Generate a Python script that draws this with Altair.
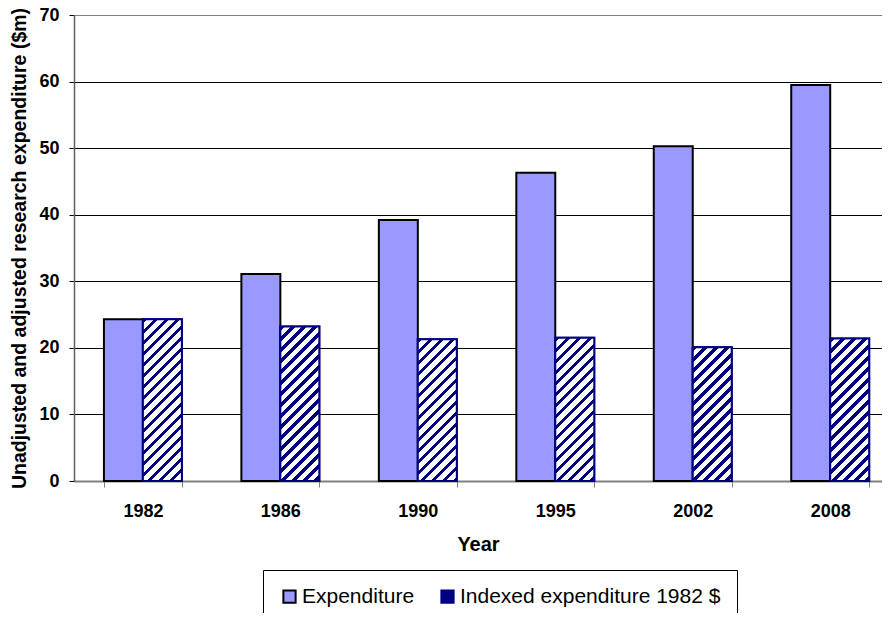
import altair as alt
import pandas as pd

# ---- data ----
years = ["1982", "1986", "1990", "1995", "2002", "2008"]
expenditure = [24.3, 31.1, 39.2, 46.3, 50.3, 59.5]
indexed = [24.3, 23.2, 21.3, 21.5, 20.1, 21.4]
series = ["Expenditure", "Indexed expenditure 1982 $"]
y_ticks = [0, 10, 20, 30, 40, 50, 60, 70]

rows = []
for yr, e, i in zip(years, expenditure, indexed):
    rows.append({"Year": yr, "series": series[0], "value": e})
    rows.append({"Year": yr, "series": series[1], "value": i})
df = pd.DataFrame(rows)

# ---- layout constants ----
FONT = "Liberation Sans"
PLOT_W = 808
PLOT_H = 466
PAD_IN = 0.433
PAD_OUT = 0.1555
ALIGN = 0.70
Y_MAX = 70
NAVY = "#000080"
LAV = "#9999FF"

step = PLOT_W / (len(years) - PAD_IN + 2 * PAD_OUT)
bar_w = step * (1 - PAD_IN) / 2


def hatch(h, w, period=11.0, frac=0.42):
    L = w + h
    s = L / (w * w + h * h)
    dt = period / L
    stops = []
    t = 0.0
    while t < 1.0:
        a = round(t, 5)
        b = round(min(t + frac * dt, 1.0), 5)
        c = round(min(t + dt, 1.0), 5)
        stops += [
            alt.GradientStop(offset=a, color=NAVY),
            alt.GradientStop(offset=b, color=NAVY),
            alt.GradientStop(offset=b, color="#FFFFFF"),
            alt.GradientStop(offset=c, color="#FFFFFF"),
        ]
        t += dt
    return alt.LinearGradient(gradient="linear", stops=stops,
                              x1=0, y1=0, x2=round(w * s, 5), y2=round(h * s, 5))


x_enc = alt.X(
    "Year:N",
    scale=alt.Scale(domain=years, paddingInner=PAD_IN, paddingOuter=PAD_OUT, align=ALIGN),
    axis=alt.Axis(
        title="Year", labelAngle=0, tickBand="extent", tickSize=6, tickColor="#808080",
        domainColor="#808080", domainWidth=2, labelPadding=15, labelFontSize=18,
        labelFontWeight="bold", labelColor="black", titleFontSize=20, titleFontWeight="bold",
        titleColor="black", titlePadding=14, grid=False,
    ),
)
xo_enc = alt.XOffset("series:N", scale=alt.Scale(domain=series))
y_enc = alt.Y(
    "value:Q",
    stack=False,
    scale=alt.Scale(domain=[0, Y_MAX], nice=False),
    axis=alt.Axis(
        title="Unadjusted and adjusted research expenditure ($m)", values=y_ticks,
        tickSize=5, tickColor="black", domainColor="#606060", domainWidth=1.5,
        labelPadding=10, labelFontSize=18, labelFontWeight="bold", labelColor="black",
        titleFontSize=19.5, titleFontWeight="bold", titleColor="black", titlePadding=9,
        grid=True, gridWidth=1,
        gridColor=alt.condition(alt.datum.value == Y_MAX, alt.value("#808080"), alt.value("black")),
    ),
)

legend = alt.Legend(
    title=None, orient="none", legendX=189, legendY=555, direction="horizontal",
    strokeColor="#000000", padding=16, symbolType="square", symbolSize=150,
    symbolStrokeWidth=2, labelFontSize=21, labelFont=FONT, labelColor="black",
    labelOffset=2, columnPadding=22, labelLimit=400, fillColor="white",
)

base = alt.Chart(df).mark_bar(strokeWidth=2).encode(
    x=x_enc,
    xOffset=xo_enc,
    y=y_enc,
    fill=alt.Fill("series:N", scale=alt.Scale(domain=series, range=[LAV, NAVY]), legend=legend),
    stroke=alt.Stroke("series:N", scale=alt.Scale(domain=series, range=["#000000", NAVY]), legend=legend),
)

layers = [base]
for yr, v in zip(years, indexed):
    h = v * PLOT_H / Y_MAX
    layers.append(
        alt.Chart(df)
        .transform_filter((alt.datum.Year == yr) & (alt.datum.series == series[1]))
        .mark_bar(fill=hatch(h, bar_w), stroke=NAVY, strokeWidth=2)
        .encode(x=x_enc, xOffset=xo_enc, y=y_enc)
    )

chart = (
    alt.layer(*layers)
    .properties(
        width=PLOT_W, height=PLOT_H, autosize="none",
        padding={"left": 66, "top": 7, "right": 0, "bottom": 132},
    )
    .configure(font=FONT)
    .configure_view(strokeWidth=0)
)

chart.save("out.html", embed_options={"renderer": "svg", "actions": False})
